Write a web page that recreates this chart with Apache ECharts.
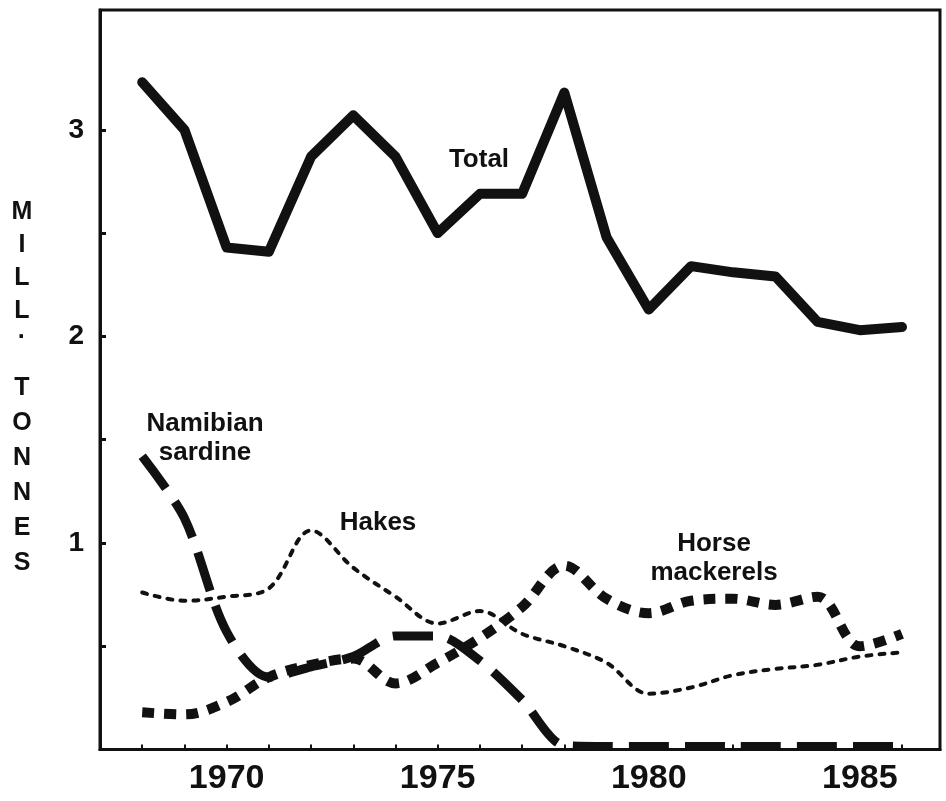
<!DOCTYPE html>
<html>
<head>
<meta charset="utf-8">
<script src="https://cdn.jsdelivr.net/npm/echarts@6/dist/echarts.min.js"></script>
<style>
html,body{margin:0;padding:0;background:#fff;}
#chart{width:946px;height:801px;}
</style>
</head>
<body>
<div id="chart"></div>
<script>
// years on the x axis
var years = [1968,1969,1970,1971,1972,1973,1974,1975,1976,1977,1978,1979,1980,1981,1982,1983,1984,1985,1986];
// catches, million tonnes
var total    = [3.23,3.00,2.43,2.41,2.87,3.07,2.87,2.50,2.69,2.69,3.18,2.48,2.13,2.34,2.31,2.29,2.07,2.03,2.045];
var hakes    = [0.76,0.72,0.74,0.78,1.06,0.88,0.74,0.61,0.67,0.56,0.50,0.42,0.27,0.30,0.36,0.39,0.41,0.45,0.47];
var horse    = [0.18,0.17,0.23,0.35,0.41,0.44,0.32,0.42,0.54,0.69,0.89,0.73,0.66,0.72,0.73,0.70,0.74,0.50,0.56];
var sardine  = [1.42,1.12,0.57,0.35,0.40,0.45,0.55,0.55,0.43,0.24,0.02,0.015,0.015,0.015,0.015,0.015,0.015,0.015,0.015];
var xLabels  = [1970,1975,1980,1985];
var yTicks   = [0.5,1,1.5,2,2.5,3];
var yLabels  = [1,2,3];
var yTitle   = ['M','I','L','L','·','T','O','N','N','E','S'];
var yTitlePos = [212,245,278,311,338,388,423,458,493,528,563];

function pairs(vals){
  var out = [];
  for (var i = 0; i < years.length; i++) out.push([years[i], vals[i]]);
  return out;
}

var font = 'Liberation Sans, Arial, Helvetica, sans-serif';
var myChart = echarts.init(document.getElementById('chart'));

var graphics = [];
for (var i = 0; i < yTitle.length; i++) {
  graphics.push({
    type:'text', x:22, y:yTitlePos[i],
    style:{ text:yTitle[i], fill:'#111', font:'bold 25px ' + font, textAlign:'center', textVerticalAlign:'middle' }
  });
}
function note(txt, x, y){
  graphics.push({
    type:'text', x:x, y:y,
    style:{ text:txt, fill:'#111', font:'bold 26px ' + font, textAlign:'center', textVerticalAlign:'middle', lineHeight:29 }
  });
}
note('Total', 479, 160);
note('Namibian\nsardine', 205, 438);
note('Hakes', 378, 523);
note('Horse\nmackerels', 714, 558);

var option = {
  animation:false,
  backgroundColor:'#fff',
  grid:{ left:100, right:6, top:10, bottom:51.5, show:true, borderColor:'#111', borderWidth:3 },
  xAxis:{
    type:'value', min:1967, max:1986.9, interval:1,
    axisLine:{ show:true, lineStyle:{ color:'#111', width:3 } },
    axisTick:{ show:true, inside:true, length:5, lineStyle:{ color:'#111', width:2 } },
    splitLine:{ show:false },
    axisLabel:{
      color:'#111', fontSize:34, fontWeight:'bold', fontFamily:font, margin:12,
      formatter:function(v){ return xLabels.indexOf(v) >= 0 ? String(v) : ''; }
    }
  },
  yAxis:{
    type:'value', min:0, max:3.58,
    axisLine:{ show:true, lineStyle:{ color:'#111', width:3 } },
    axisTick:{ show:true, inside:true, length:6, customValues:yTicks, lineStyle:{ color:'#111', width:3 } },
    splitLine:{ show:false },
    axisLabel:{
      color:'#111', fontSize:28, fontWeight:'bold', fontFamily:font, margin:16,
      customValues:yLabels,
      formatter:function(v){ return yLabels.indexOf(v) >= 0 ? String(v) : ''; }
    }
  },
  graphic: graphics,
  series:[
    { name:'Hakes', type:'line', data:pairs(hakes), smooth:0.35, symbol:'none',
      lineStyle:{ color:'#111', width:4, type:[5,8], cap:'round' }, z:2 },
    { name:'Horse mackerels', type:'line', data:pairs(horse), smooth:0.35, symbol:'none',
      lineStyle:{ color:'#111', width:10, type:[12,10] }, z:3 },
    { name:'Namibian sardine', type:'line', data:pairs(sardine), smooth:0.3, symbol:'none',
      lineStyle:{ color:'#111', width:9, type:[40,16] }, z:4 },
    { name:'Total', type:'line', data:pairs(total), symbol:'none',
      lineStyle:{ color:'#111', width:10, join:'round', cap:'round' }, z:5 }
  ]
};
myChart.setOption(option);
</script>
</body>
</html>
